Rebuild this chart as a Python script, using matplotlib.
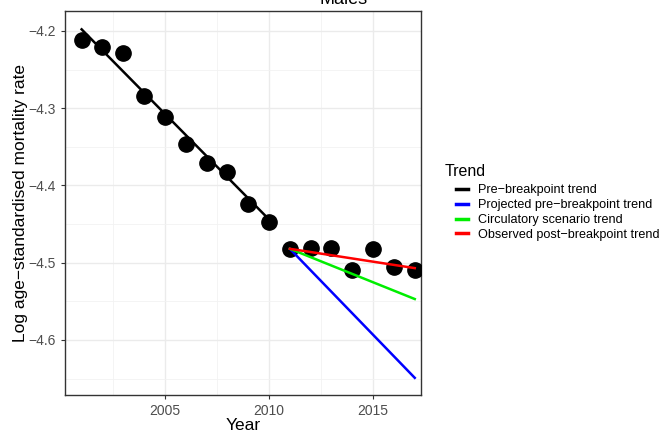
import matplotlib.pyplot as plt
from matplotlib.lines import Line2D
from matplotlib.ticker import MultipleLocator

plt.rcParams['font.family'] = ['Liberation Sans', 'DejaVu Sans']

years = [2001, 2002, 2003, 2004, 2005, 2006, 2007, 2008, 2009,
         2010, 2011, 2012, 2013, 2014, 2015, 2016, 2017]
log_rate = [-4.212, -4.221, -4.228, -4.284, -4.311, -4.347, -4.371, -4.382, -4.424,
            -4.447, -4.482, -4.481, -4.481, -4.510, -4.482, -4.505, -4.509]

# trend lines: start/end year and start/end value
pre_years = [2001, 2010]
pre_vals = [-4.198, -4.444]
post_years = [2011, 2017]
projected_vals = [-4.482, -4.649]
circulatory_vals = [-4.482, -4.547]
observed_vals = [-4.482, -4.507]

trend_names = ["Pre\u2212breakpoint trend", "Projected pre\u2212breakpoint trend",
               "Circulatory scenario trend", "Observed post\u2212breakpoint trend"]
trend_colors = ["black", "blue", "#00ee00", "red"]

fig = plt.figure(figsize=(6.63, 4.32), dpi=100)
ax = fig.add_axes([0.098, 0.086, 0.537, 0.889])

ax.plot(years, log_rate, 'o', color='black', markersize=11, zorder=3)
ax.plot(pre_years, pre_vals, color=trend_colors[0], lw=1.8, zorder=4)
ax.plot(post_years, projected_vals, color=trend_colors[1], lw=1.8, zorder=4)
ax.plot(post_years, circulatory_vals, color=trend_colors[2], lw=1.8, zorder=4)
ax.plot(post_years, observed_vals, color=trend_colors[3], lw=1.8, zorder=4)

ax.set_xlim(2000.2, 2017.3)
ax.set_ylim(-4.671, -4.174)
ax.set_xticks([2005, 2010, 2015])
ax.set_yticks([-4.2, -4.3, -4.4, -4.5, -4.6])
ax.set_yticklabels(["\u22124.2", "\u22124.3", "\u22124.4", "\u22124.5", "\u22124.6"])
ax.xaxis.set_minor_locator(MultipleLocator(2.5))
ax.yaxis.set_minor_locator(MultipleLocator(0.05))
ax.grid(True, which='major', color='#ebebeb', lw=1.0)
ax.grid(True, which='minor', color='#f2f2f2', lw=0.6)
ax.set_axisbelow(True)
ax.tick_params(which='major', length=3, color='#333333', labelsize=10, labelcolor='#4d4d4d')
ax.tick_params(which='minor', length=0)
for sp in ax.spines.values():
    sp.set_color('#333333')
    sp.set_linewidth(1.0)

ax.set_xlabel("Year", fontsize=12.5, labelpad=0)
ax.set_ylabel("Log age\u2212standardised mortality rate", fontsize=12.5, labelpad=0)

fig.text(0.518, 1.0, "Males", ha='center', va='center', fontsize=13)

fig.text(0.671, 0.602, "Trend", ha='left', va='center', fontsize=11.5)
handles = [Line2D([0], [0], color=c, lw=2.5) for c in trend_colors]
fig.legend(handles, trend_names, loc='upper left', bbox_to_anchor=(0.688, 0.573),
           frameon=False, fontsize=9.1, borderpad=0, borderaxespad=0,
           handlelength=0.95, handletextpad=0.8, labelspacing=0.22)

fig.savefig("out.png", dpi=100)
